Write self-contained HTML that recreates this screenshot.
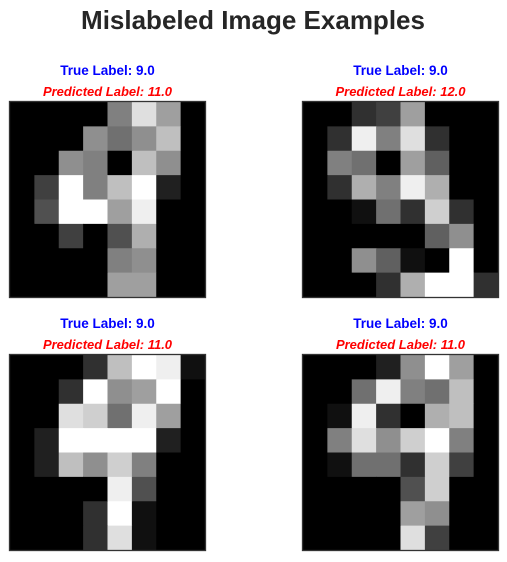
<!DOCTYPE html>
<html><head><meta charset="utf-8"><style>
body{margin:0;background:#fff;width:507px;height:562px;overflow:hidden}
svg{display:block}
</style></head><body>
<svg id="fig" width="507" height="562" font-family="Liberation Sans, DejaVu Sans, sans-serif">
<text x="253" y="29" text-anchor="middle" font-size="26" font-weight="bold" fill="#262626">Mislabeled Image Examples</text>
</svg>
<script>
const trueLabels = ["9.0","9.0","9.0","9.0"];
const predLabels = ["11.0","12.0","11.0","11.0"];
const img0 = [[0,0,0,0,8,14,10,0],[0,0,0,9,7,9,12,0],[0,0,9,8,0,12,9,0],[0,4,16,8,12,16,2,0],[0,5,16,16,10,15,0,0],[0,0,4,0,5,11,0,0],[0,0,0,0,8,9,0,0],[0,0,0,0,10,10,0,0]];
const img1 = [[0,0,3,4,10,0,0,0],[0,3,15,8,14,3,0,0],[0,8,7,0,10,6,0,0],[0,3,11,8,15,11,0,0],[0,0,1,7,3,13,3,0],[0,0,0,0,0,6,9,0],[0,0,9,6,1,0,16,0],[0,0,0,3,11,16,16,3]];
const img2 = [[0,0,0,3,12,16,15,1],[0,0,3,16,9,10,16,0],[0,0,14,13,7,15,10,0],[0,2,16,16,16,16,2,0],[0,2,12,9,13,8,0,0],[0,0,0,0,15,5,0,0],[0,0,0,3,16,1,0,0],[0,0,0,3,14,1,0,0]];
const img3 = [[0,0,0,2,9,16,10,0],[0,0,7,15,8,7,12,0],[0,1,15,3,0,11,12,0],[0,8,14,9,13,16,8,0],[0,1,7,7,3,13,4,0],[0,0,0,0,5,13,0,0],[0,0,0,0,10,9,0,0],[0,0,0,0,14,4,0,0]];
const images = [img0,img1,img2,img3];
const NS="http://www.w3.org/2000/svg";
const svg=document.getElementById('fig');
const origins=[[10,102],[303,102],[10,355],[303,355]];
const size=195, cell=size/8;
function mk(t,a){const e=document.createElementNS(NS,t);for(const k in a)e.setAttribute(k,a[k]);return e;}
images.forEach((img,p)=>{
  const [ox,oy]=origins[p];
  const g=mk('g',{});
  
  
  const cx=ox+size/2;
  const t1=mk('text',{x:cx,y:oy-27,'text-anchor':'middle','font-size':'13.5','font-weight':'bold',fill:'#0000ff'});
  t1.textContent='True Label: '+trueLabels[p];
  
  
  g.appendChild(t1);
  const t2=mk('text',{x:cx,y:oy-6,'text-anchor':'middle','font-size':'13','font-weight':'bold','font-style':'italic',fill:'#ff0000'});
  t2.textContent='Predicted Label: '+predLabels[p];
  
  
  g.appendChild(t2);
  img.forEach((row,r)=>row.forEach((v,c)=>{
    const gv=Math.round(v/16*255);
    const rc=mk('rect',{x:ox+c*cell,y:oy+r*cell,width:cell+0.5,height:cell+0.5,fill:`rgb(${gv},${gv},${gv})`});
    
    
    g.appendChild(rc);
  }));
  const b=mk('rect',{x:ox-0.5,y:oy-0.5,width:size+1,height:size+1,fill:'none',stroke:'#333',"stroke-width":'1.3'});
  
  
  g.appendChild(b);
  svg.appendChild(g);
});
</script>
</body></html>
